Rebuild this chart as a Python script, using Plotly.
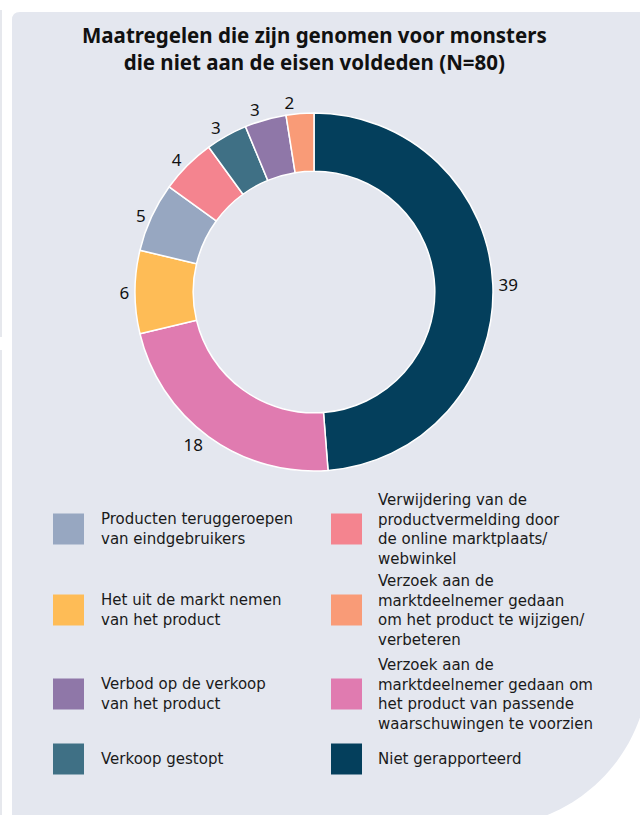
import numpy as np
import plotly.graph_objects as go

# ---------------- data ----------------
slice_labels = [
    "Niet gerapporteerd",
    "Verzoek aan de marktdeelnemer gedaan om het product van passende waarschuwingen te voorzien",
    "Het uit de markt nemen van het product",
    "Producten teruggeroepen van eindgebruikers",
    "Verwijdering van de productvermelding door de online marktplaats/webwinkel",
    "Verkoop gestopt",
    "Verbod op de verkoop van het product",
    "Verzoek aan de marktdeelnemer gedaan om het product te wijzigen/verbeteren",
]
slice_values = [39, 18, 6, 5, 4, 3, 3, 2]
slice_colors = ["#043F5C", "#E07BB0", "#FEBC56", "#97A7C1", "#F4848F", "#3F7085", "#8F77A8", "#F99B77"]

# legend text (wrapped as in the reference), in legend reading order
legend_col1 = [
    ("Producten teruggeroepen van eindgebruikers", "Producten teruggeroepen<br>van eindgebruikers"),
    ("Het uit de markt nemen van het product", "Het uit de markt nemen<br>van het product"),
    ("Verbod op de verkoop van het product", "Verbod op de verkoop<br>van het product"),
    ("Verkoop gestopt", "Verkoop gestopt"),
]
legend_col2 = [
    ("Verwijdering van de productvermelding door de online marktplaats/webwinkel",
     "Verwijdering van de<br>productvermelding door<br>de online marktplaats/<br>webwinkel"),
    ("Verzoek aan de marktdeelnemer gedaan om het product te wijzigen/verbeteren",
     "Verzoek aan de<br>marktdeelnemer gedaan<br>om het product te wijzigen/<br>verbeteren"),
    ("Verzoek aan de marktdeelnemer gedaan om het product van passende waarschuwingen te voorzien",
     "Verzoek aan de<br>marktdeelnemer gedaan om<br>het product van passende<br>waarschuwingen te voorzien"),
    ("Niet gerapporteerd", "Niet gerapporteerd"),
]

title_text = "Maatregelen die zijn genomen voor monsters<br>die niet aan de eisen voldeden (N=80)"

# ---------------- layout constants ----------------
W, H = 640, 815
PANEL = "#E4E7EF"
FONT = "Noto Sans"
LEG_FONT = "DejaVu Sans"

# value labels split over two overlaid traces so neighbours never collide
pos_a = ["outside", "outside", "outside", "none", "outside", "none", "outside", "none"]
pos_b = ["none", "none", "none", "outside", "none", "outside", "none", "outside"]


def px(x):
    return x / W


def py(y):
    return 1 - y / H


color_of = dict(zip(slice_labels, slice_colors))

fig = go.Figure()

cx, cy, r = 314, 292, 179
dom = dict(x=[px(cx - r), px(cx + r)], y=[py(cy + r), py(cy - r)])
common = dict(labels=slice_labels, values=slice_values, sort=False, direction="clockwise",
              rotation=0, hole=0.675, textinfo="value", showlegend=False, domain=dom,
              textfont=dict(family=FONT, size=17, color="#111111"))
fig.add_trace(go.Pie(
    marker=dict(colors=slice_colors, line=dict(color="white", width=1.5)),
    textposition=pos_a, **common))
fig.add_trace(go.Pie(
    marker=dict(colors=["rgba(0,0,0,0)"] * len(slice_values), line=dict(width=0)),
    textposition=pos_b, hoverinfo="skip", **common))

shapes = []
# background panel with curved bottom-right corner
path = f"M {px(12)},{py(H)} L {px(12)},{py(20)} Q {px(12)},{py(12)} {px(20)},{py(12)} L {px(W)},{py(12)}"
ccx, ccy, R = 486, 664, 163
a0 = np.arctan2(717 - ccy, W - ccx)
a1 = np.arctan2(H - ccy, 547 - ccx)
for a in np.linspace(a0, a1, 40):
    path += f" L {px(ccx + R*np.cos(a))},{py(ccy + R*np.sin(a))}"
path += " Z"
shapes.append(dict(type="path", xref="paper", yref="paper", path=path,
                   fillcolor=PANEL, line=dict(width=0), layer="below"))
# faint outline at left page edge
for y0, y1 in [(10, 337), (350, H)]:
    shapes.append(dict(type="line", xref="paper", yref="paper",
                       x0=px(1), x1=px(1), y0=py(y0), y1=py(y1),
                       line=dict(color="#E6E8ED", width=2), layer="below"))

annotations = []
# title
annotations.append(dict(xref="paper", yref="paper", x=px(314), y=py(49),
                        xanchor="center", yanchor="middle", align="center",
                        text=f"<b>{title_text}</b>", showarrow=False,
                        font=dict(family=FONT, size=20.5, color="#111111")))
# manual two-column legend
row_centers = [529, 610, 694, 759]
sw = 31
for col, (items, sx, tx) in enumerate([(legend_col1, 53, 99), (legend_col2, 331, 376)]):
    for i, (lab, txt) in enumerate(items):
        yc = row_centers[i]
        shapes.append(dict(type="rect", xref="paper", yref="paper",
                           x0=px(sx), x1=px(sx + sw), y0=py(yc - sw / 2), y1=py(yc + sw / 2),
                           fillcolor=color_of[lab], line=dict(width=0)))
        annotations.append(dict(xref="paper", yref="paper", x=px(tx), y=py(yc),
                                xanchor="left", yanchor="middle", align="left",
                                text=txt, showarrow=False,
                                font=dict(family=LEG_FONT, size=15, color="#1a1a1a")))

fig.update_layout(
    width=W, height=H,
    margin=dict(l=0, r=0, t=0, b=0),
    paper_bgcolor="white",
    plot_bgcolor="white",
    shapes=shapes,
    annotations=annotations,
)

fig.write_html("out.html", config={"displayModeBar": False},
               post_script="document.body.style.margin='0';")
